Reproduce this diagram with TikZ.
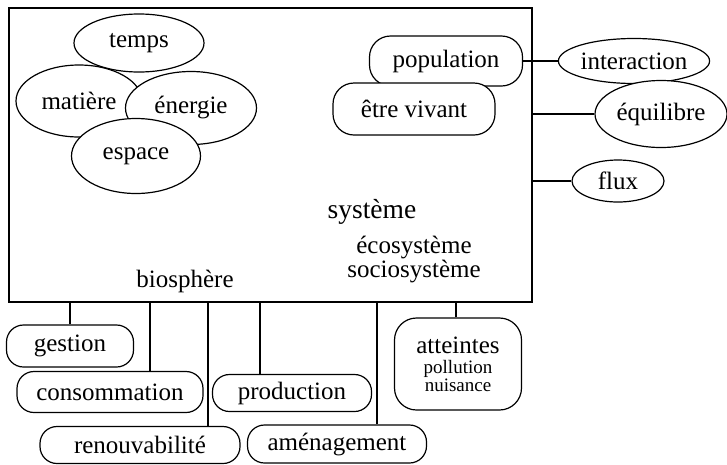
\documentclass[tikz,border=0pt]{standalone}
\usepackage{fontspec}
\setmainfont{Liberation Serif}
\usetikzlibrary{shapes.geometric, calc}
\tikzstyle{notion} = [ellipse, draw=black, fill=white, line width=1.2pt, inner sep=0pt, font=\fontsize{25}{28}\selectfont]
\tikzstyle{field-box} = [rectangle, rounded corners=17pt, draw=black, fill=white, line width=1.2pt, inner sep=0pt, font=\fontsize{25}{28}\selectfont]
\tikzstyle{sys-text} = [inner sep=0pt, anchor=base, font=\fontsize{25}{28}\selectfont]
\tikzstyle{link} = [line width=1.2pt]

\begin{document}
\begin{tikzpicture}[x=1pt, y=-1pt]
\useasboundingbox (0,0) rectangle (727,464);

% system box
\node (sys) [draw=black, line width=1.2pt, minimum width=523pt, minimum height=294pt, outer sep=0pt] at (270.5,155) {};
\node (systeme) [sys-text, font=\fontsize{27.5}{30}\selectfont] at (372,218) {système};
\node (subsys) [sys-text, align=center, font=\fontsize{25}{22.5}\selectfont] at (414,277) {écosystème\\sociosystème};
\node (biosph) [sys-text] at (185,287) {biosphère};

% notions inside the box
\node (temps) [notion, minimum width=130pt, minimum height=58pt] at (139,43) {temps};
\node (matiere) [notion, minimum width=126pt, minimum height=72pt] at (79,101) {matière};
\node (energie) [notion, minimum width=131pt, minimum height=73pt] at (191,108) {énergie};
\node (espace) [notion, minimum width=129pt, minimum height=75pt] at (136,156) {espace};

\node (pop) [field-box, minimum width=153pt, minimum height=50pt, rounded corners=21pt] at (446,61) {population};
\node (etre) [field-box, minimum width=162pt, minimum height=52pt, rounded corners=21pt] at (414,109) {être vivant\hspace{18pt}};

% notions on the right
\node (inter) [notion, minimum width=148pt, minimum height=45pt] at (634,61) {interaction};
\node (equi) [notion, minimum width=132pt, minimum height=67pt] at (661,114) {équilibre};
\node (flux) [notion, minimum width=92pt, minimum height=42pt] at (618,181) {flux};

\draw [link] (pop.east) -- (inter.west);
\draw [link] (equi.west) -- (equi.west -| sys.east);
\draw [link] (flux.west) -- (flux.west -| sys.east);

% fields below the box
\node (gestion) [field-box, minimum width=127pt, minimum height=42pt] at (70,346) {gestion};
\node (conso) [field-box, minimum width=186pt, minimum height=41pt] at (110,392) {consommation};
\node (renouv) [field-box, minimum width=200pt, minimum height=37pt] at (140,445) {renouvabilité};
\node (prod) [field-box, minimum width=159pt, minimum height=37pt] at (292,393) {production};
\node (amenag) [field-box, minimum width=179pt, minimum height=38pt] at (337,444) {aménagement};
\node (atteintes) [field-box, minimum width=127pt, minimum height=92pt, rounded corners=22pt, align=center, font=\fontsize{19}{17.5}\selectfont] at (458,364) {{\fontsize{25}{28}\selectfont atteintes}\\[3pt]pollution\\nuisance};

\draw [link] (gestion.north) -- (gestion.north |- sys.south);
\draw [link] ([xshift=40pt]conso.north) -- ([xshift=40pt]conso.north |- sys.south);
\draw [link] ([xshift=68pt]renouv.north) -- ([xshift=68pt]renouv.north |- sys.south);
\draw [link] ([xshift=-32pt]prod.north) -- ([xshift=-32pt]prod.north |- sys.south);
\draw [link] ([xshift=40pt]amenag.north) -- ([xshift=40pt]amenag.north |- sys.south);
\draw [link] ([xshift=-2pt]atteintes.north) -- ([xshift=-2pt]atteintes.north |- sys.south);

\end{tikzpicture}
\end{document}
